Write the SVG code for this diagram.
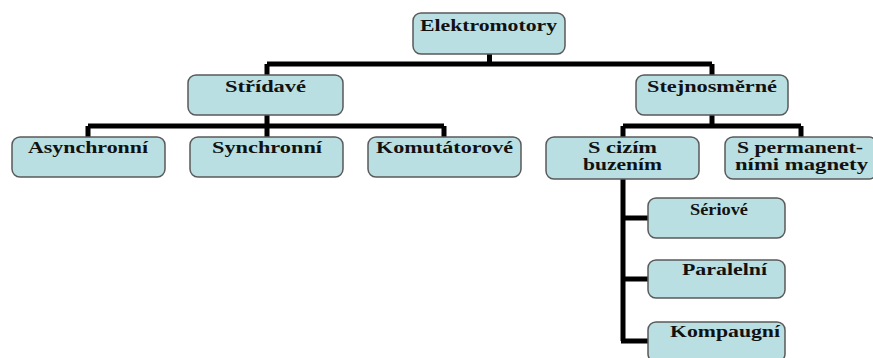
<svg xmlns="http://www.w3.org/2000/svg" width="873" height="358" viewBox="0 0 873 358">
<style>
.box{fill:#b9dfe3;stroke:#5a5a5a;stroke-width:1.5}
.lbl{font-family:"Liberation Serif","Times New Roman",serif;font-weight:bold;font-size:16px;fill:#111;text-anchor:middle}
.con{fill:none;stroke:#000;stroke-width:5}
</style>
<rect width="873" height="358" fill="#fff"/>
<g id="connectors">
<path class="con" d="M489.5 54V64M267 64H712M267 64V75M712 64V75"/>
<path class="con" d="M267 115V126M88 126H444M88 126V137M267 126V137M444 126V137"/>
<path class="con" d="M712 115V126M623 126H801M623 126V137M801 126V137"/>
<path class="con" d="M623 179V341M623 218H648M623 279H648M621 341H648"/>
</g>
<g id="n-elektromotory"><rect class="box" x="413" y="13" width="152" height="41" rx="8"/><text class="lbl" x="488.5" y="31" textLength="137" lengthAdjust="spacingAndGlyphs">Elektromotory</text></g>
<g id="n-stridave"><rect class="box" x="188" y="75" width="155" height="40" rx="8"/><text class="lbl" x="265.5" y="92" textLength="81" lengthAdjust="spacingAndGlyphs">Střídavé</text></g>
<g id="n-stejnosmerne"><rect class="box" x="636" y="75" width="152" height="40" rx="8"/><text class="lbl" x="712" y="92" textLength="130" lengthAdjust="spacingAndGlyphs">Stejnosměrné</text></g>
<g id="n-asynchronni"><rect class="box" x="12" y="137" width="153" height="40" rx="8"/><text class="lbl" x="88" y="153" textLength="120" lengthAdjust="spacingAndGlyphs">Asynchronní</text></g>
<g id="n-synchronni"><rect class="box" x="190" y="137" width="153" height="40" rx="8"/><text class="lbl" x="267" y="153" textLength="110" lengthAdjust="spacingAndGlyphs">Synchronní</text></g>
<g id="n-komutatorove"><rect class="box" x="368" y="137" width="153" height="40" rx="8"/><text class="lbl" x="444.5" y="153" textLength="137" lengthAdjust="spacingAndGlyphs">Komutátorové</text></g>
<g id="n-cizim"><rect class="box" x="546" y="137" width="153" height="42" rx="8"/><text class="lbl" x="622.5" y="153" textLength="69" lengthAdjust="spacingAndGlyphs">S cizím</text><text class="lbl" x="622.5" y="170" textLength="79" lengthAdjust="spacingAndGlyphs">buzením</text></g>
<g id="n-permanent"><rect class="box" x="725" y="137" width="152" height="42" rx="8"/><text class="lbl" x="800" y="153" textLength="126" lengthAdjust="spacingAndGlyphs">S permanent-</text><text class="lbl" x="801.5" y="170" textLength="133" lengthAdjust="spacingAndGlyphs">ními magnety</text></g>
<g id="n-seriove"><rect class="box" x="648" y="198" width="137" height="40" rx="8"/><text class="lbl" x="719" y="215" textLength="58" lengthAdjust="spacingAndGlyphs">Sériové</text></g>
<g id="n-paralelni"><rect class="box" x="648" y="260" width="137" height="38" rx="8"/><text class="lbl" x="724.5" y="275" textLength="85" lengthAdjust="spacingAndGlyphs">Paralelní</text></g>
<g id="n-kompaugni"><rect class="box" x="648" y="322" width="137" height="40" rx="8"/><text class="lbl" x="725" y="337" textLength="110" lengthAdjust="spacingAndGlyphs">Kompaugní</text></g>
</svg>
